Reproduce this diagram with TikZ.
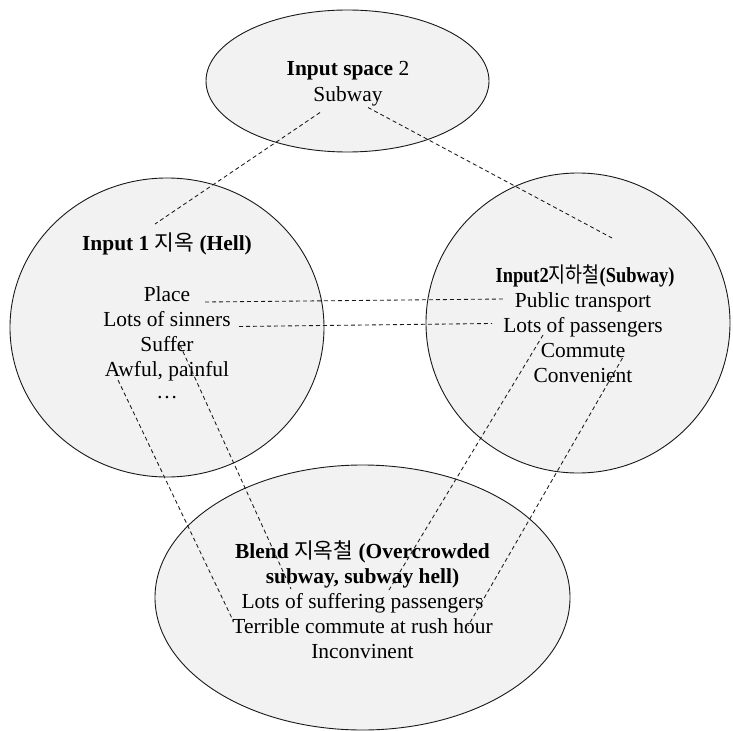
\documentclass[tikz,border=0pt]{standalone}
\usepackage{fontspec}
\setmainfont{Liberation Serif}
\newfontfamily\krfont{Noto Sans CJK KR}
\usepackage{graphicx}
\usepackage{xcolor}
\usetikzlibrary{shapes.geometric}
\definecolor{spacefill}{RGB}{242,242,242}
\newcommand{\kr}[1]{{\krfont\mdseries #1}}

\begin{document}
\begin{tikzpicture}[x=1bp, y=-1bp, font=\fontsize{21.5}{25}\selectfont,
  space/.style={draw=black!90, line width=0.9bp, fill=spacefill, ellipse, inner sep=0pt},
  item/.style={inner sep=0pt, text height=14bp, text depth=4bp},
  link/.style={dash pattern=on 4bp off 3bp, line width=0.85bp, black!90}]
  \useasboundingbox (0,0) rectangle (733,731);

  % Mental spaces
  \node[space, minimum width=283bp, minimum height=142bp] (space2) at (347.5, 81) {};
  \node[space, minimum width=314bp, minimum height=299bp] (input1) at (167, 327.5) {};
  \node[space, minimum width=304bp, minimum height=300bp] (input2) at (578, 323) {};
  \node[space, minimum width=415bp, minimum height=265bp] (blend) at (362.5, 597.5) {};

  % Input space 2
  \node[item] (s2title) at (348, 71) {\textbf{Input space} 2};
  \node[item] (s2subway) at (348, 97) {Subway};

  % Input 1 (Hell)
  \node[item] (h1title) at (167, 245) {\textbf{Input 1 \kr{지옥} (Hell)}};
  \node[item] (place) at (167, 296) {Place};
  \node[item] (sinners) at (167, 321) {Lots of sinners};
  \node[item] (suffer) at (167, 346) {Suffer};
  \node[item] (awful) at (167, 371) {Awful, painful};
  \node[item] (etc) at (167, 393) {…};

  % Input 2 (Subway)
  \node[item] (s1title) at (585, 277) {\scalebox{0.86}[1]{\bfseries Input2\kr{지하철}(Subway)}};
  \node[item] (transport) at (583, 302) {Public transport};
  \node[item] (passengers) at (583, 327) {Lots of passengers};
  \node[item] (commute) at (583, 352) {Commute};
  \node[item] (convenient) at (583, 377) {Convenient};

  % Blend
  \node[item] (b1title) at (362.5, 553) {\textbf{Blend \kr{지옥철} (Overcrowded}};
  \node[item] (b2title) at (362.5, 578) {\textbf{subway, subway hell)}};
  \node[item] (suffering) at (362.5, 603) {Lots of suffering passengers};
  \node[item] (rushhour) at (362.5, 628) {Terrible commute at rush hour};
  \node[item] (inconv) at (362.5, 653) {Inconvinent};

  % Free ends of the mappings
  \coordinate (s2a) at (320, 112.5);
  \coordinate (s2b) at (368, 107.5);
  \coordinate (h1a) at (155, 224);
  \coordinate (s1a) at (612, 238);
  \coordinate (placeR) at (205, 302);
  \coordinate (transL) at (503, 299);
  \coordinate (sinnR) at (239, 326.5);
  \coordinate (passL) at (492, 323.5);
  \coordinate (awfulA) at (118, 380);
  \coordinate (sufferA) at (180, 345);
  \coordinate (passA) at (543, 335);
  \coordinate (commA) at (622.5, 358);
  \coordinate (blendA) at (233.5, 621.5);
  \coordinate (blendB) at (291, 589);
  \coordinate (blendC) at (389, 590);
  \coordinate (blendD) at (468, 626);

  % Cross-space mappings
  \draw[link] (s2a) -- (h1a);
  \draw[link] (s2b) -- (s1a);
  \draw[link] (placeR) -- (transL);
  \draw[link] (sinnR) -- (passL);
  \draw[link] (awfulA) -- (blendA);
  \draw[link] (sufferA) -- (blendB);
  \draw[link] (passA) -- (blendC);
  \draw[link] (commA) -- (blendD);
\end{tikzpicture}
\end{document}
